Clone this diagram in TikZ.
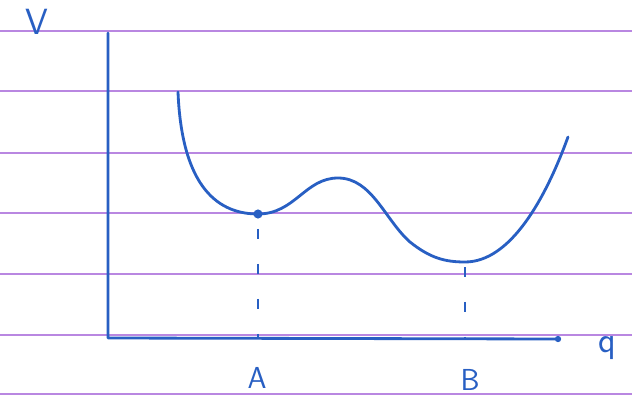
\documentclass[tikz,border=0pt]{standalone}
\usetikzlibrary{positioning}
\definecolor{ink}{RGB}{40,95,195}
\definecolor{ruling}{RGB}{185,135,225}
\begin{document}
\begin{tikzpicture}[x=0.02cm, y=-0.02cm, every node/.style={font=\LARGE\sffamily, text=ink},
  pen/.style={ink, line width=1.6pt, line cap=round, line join=round},
  dropline/.style={ink, line width=1.1pt, dash pattern=on 0.2cm off 0.5cm}]
  \useasboundingbox (0,0) rectangle (632,395);
  \fill[white] (0,0) rectangle (632,395);
  % ruled paper
  \foreach \y in {31,91,153,213,274,335,394}
    \draw[ruling, line width=0.9pt] (0,\y) -- (632,\y);

  % axes
  \coordinate (vtop) at (108,33);
  \coordinate (origin) at (108,338);
  \coordinate (qend) at (558,339);
  \draw[pen] (vtop) -- (origin) -- (qend);
  \fill[ink] (qend) circle (1.8pt);
  \node[font=\huge\sffamily] (labV) at (37,22) {V};
  \node[font=\huge\sffamily] (labq) at (607,348) {q};

  % potential curve
  \coordinate (minA) at (258,214);
  \coordinate (minB) at (465,262);
  \draw[pen] (178,92) .. controls (182,190) and (220,214) .. (minA)
    .. controls (295,214) and (305,178) .. (338,178)
    .. controls (372,178) and (385,220) .. (410,242)
    .. controls (430,258) and (445,262) .. (minB)
    .. controls (510,262) and (545,200) .. (568,137);
  \fill[ink] (minA) circle (2.6pt);

  % drop lines to the axis
  \draw[dropline, dash phase=-0.3cm] (minA) -- (minA |- origin);
  \draw[dropline, dash phase=-0.1cm] (minB) -- (minB |- origin);
  \node (labA) at (257,378) {A};
  \node (labB) at (470,380) {B};
\end{tikzpicture}
\end{document}
